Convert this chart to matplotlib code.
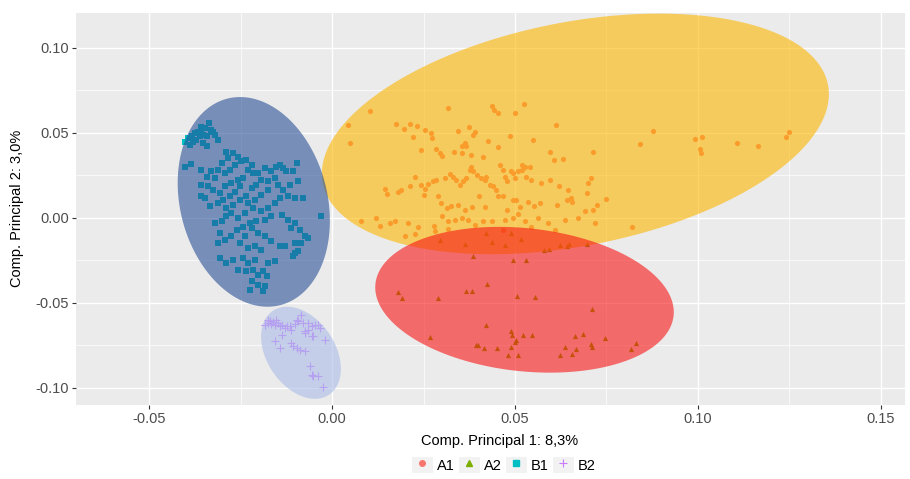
import numpy as np
import matplotlib
matplotlib.use("Agg")
import matplotlib.pyplot as plt
from matplotlib.lines import Line2D
from matplotlib.patches import Rectangle
from matplotlib.legend_handler import HandlerTuple

plt.rcParams["font.family"] = ["Liberation Sans", "DejaVu Sans"]

# group A1 (circles)
a1_x = [0.0103, 0.0044, 0.0050, 0.0317, 0.0438, 0.0442, 0.0454, 0.0501, 0.0524, 0.0611,
        0.0176, 0.0197, 0.0213, 0.0231, 0.0254, 0.0270, 0.0272, 0.0343, 0.0374, 0.0386,
        0.0390, 0.0220, 0.0244, 0.0283, 0.0295, 0.0301, 0.0334, 0.0354, 0.0363, 0.0367,
        0.0356, 0.0379, 0.0413, 0.0427, 0.0454, 0.0486, 0.0550, 0.0595, 0.0607, 0.0632,
        0.0714, 0.0226, 0.0144, 0.0151, 0.0181, 0.0188, 0.0213, 0.0244, 0.0254, 0.0252,
        0.0263, 0.0276, 0.0285, 0.0308, 0.0322, 0.0331, 0.0340, 0.0349, 0.0358, 0.0366,
        0.0377, 0.0381, 0.0386, 0.0395, 0.0408, 0.0418, 0.0422, 0.0431, 0.0440, 0.0449,
        0.0460, 0.0468, 0.0472, 0.0477, 0.0489, 0.0495, 0.0499, 0.0509, 0.0518, 0.0520,
        0.0527, 0.0531, 0.0540, 0.0545, 0.0571, 0.0595, 0.0620, 0.0645, 0.0653, 0.0700,
        0.0707, 0.0723, 0.0750, 0.0290, 0.0299, 0.0313, 0.0326, 0.0343, 0.0363, 0.0383,
        0.0401, 0.0419, 0.0454, 0.0468, 0.0477, 0.0495, 0.0504, 0.0513, 0.0536, 0.0552,
        0.0568, 0.0616, 0.0643, 0.0657, 0.0691, 0.0080, 0.0121, 0.0131, 0.0158, 0.0172,
        0.0208, 0.0235, 0.0279, 0.0301, 0.0317, 0.0336, 0.0354, 0.0372, 0.0390, 0.0413,
        0.0436, 0.0472, 0.0495, 0.0507, 0.0527, 0.0563, 0.0591, 0.0636, 0.0671, 0.0720,
        0.0199, 0.0226, 0.0281, 0.0317, 0.0468, 0.0545, 0.0609, 0.0877, 0.0841, 0.0991,
        0.1011, 0.1005, 0.1009, 0.1107, 0.1164, 0.1242, 0.1250, 0.0698, 0.0713, 0.0820]
a1_y = [0.0630, 0.0547, 0.0439, 0.0645, 0.0659, 0.0635, 0.0616, 0.0616, 0.0671, 0.0547,
        0.0551, 0.0522, 0.0551, 0.0541, 0.0518, 0.0498, 0.0469, 0.0514, 0.0532, 0.0488,
        0.0508, 0.0473, 0.0400, 0.0404, 0.0381, 0.0365, 0.0388, 0.0420, 0.0439, 0.0420,
        0.0381, 0.0369, 0.0361, 0.0455, 0.0416, 0.0479, 0.0459, 0.0386, 0.0341, 0.0347,
        0.0385, 0.0239, 0.0169, 0.0141, 0.0155, 0.0165, 0.0185, 0.0194, 0.0169, 0.0136,
        0.0200, 0.0214, 0.0220, 0.0234, 0.0259, 0.0243, 0.0224, 0.0194, 0.0214, 0.0234,
        0.0283, 0.0302, 0.0273, 0.0253, 0.0234, 0.0224, 0.0239, 0.0194, 0.0185, 0.0165,
        0.0312, 0.0283, 0.0243, 0.0214, 0.0273, 0.0263, 0.0234, 0.0277, 0.0283, 0.0312,
        0.0302, 0.0243, 0.0302, 0.0224, 0.0204, 0.0224, 0.0185, 0.0165, 0.0116, 0.0204,
        0.0234, 0.0077, 0.0110, 0.0126, 0.0087, 0.0057, 0.0067, 0.0077, 0.0047, 0.0063,
        0.0130, 0.0063, 0.0130, 0.0126, 0.0047, 0.0106, 0.0106, 0.0061, 0.0096, 0.0067,
        0.0087, 0.0073, 0.0106, 0.0096, 0.0038, -0.0021, -0.0002, -0.0047, -0.0031, -0.0021,
        -0.0031, -0.0051, -0.0047, 0.0008, -0.0021, -0.0011, -0.0002, -0.0011, -0.0041, -0.0021,
        -0.0021, -0.0011, -0.0002, 0.0024, -0.0021, -0.0002, -0.0031, -0.0011, -0.0002, -0.0031,
        -0.0104, -0.0094, -0.0080, -0.0066, -0.0070, -0.0051, -0.0070, 0.0514, 0.0434, 0.0465,
        0.0477, 0.0404, 0.0381, 0.0439, 0.0420, 0.0475, 0.0508, 0.0145, 0.0047, -0.0056]

# group A2 (triangles)
a2_x = [0.0294, 0.0363, 0.0437, 0.0474, 0.0517, 0.0578, 0.0593, 0.0622, 0.0643, 0.0647,
        0.0697, 0.0385, 0.0494, 0.0531, 0.0423, 0.0180, 0.0191, 0.0290, 0.0367, 0.0383,
        0.0506, 0.0554, 0.0710, 0.0420, 0.0267, 0.0488, 0.0492, 0.0522, 0.0546, 0.0393,
        0.0399, 0.0415, 0.0451, 0.0488, 0.0499, 0.0504, 0.0481, 0.0507, 0.0624, 0.0637,
        0.0656, 0.0663, 0.0667, 0.0687, 0.0708, 0.0710, 0.0747, 0.0818, 0.0831, 0.0490,
        0.0422]
a2_y = [-0.0129, -0.0153, -0.0145, -0.0159, -0.0125, -0.0192, -0.0184, -0.0159, -0.0165, -0.0153,
        -0.0153, -0.0222, -0.0247, -0.0251, -0.0388, -0.0437, -0.0472, -0.0474, -0.0433, -0.0433,
        -0.0461, -0.0466, -0.0537, -0.0633, -0.0702, -0.0668, -0.0690, -0.0692, -0.0692, -0.0747,
        -0.0747, -0.0766, -0.0766, -0.0763, -0.0733, -0.0717, -0.0806, -0.0806, -0.0806, -0.0763,
        -0.0802, -0.0694, -0.0772, -0.0682, -0.0743, -0.0763, -0.0708, -0.0772, -0.0737, -0.0090,
        -0.0090]

# group B1 (squares)
b1_x = [-0.0402, -0.0393, -0.0382, -0.0375, -0.0366, -0.0357, -0.0348, -0.0337, -0.0331, -0.0380,
        -0.0371, -0.0361, -0.0352, -0.0343, -0.0320, -0.0311, -0.0341, -0.0389, -0.0352, -0.0359,
        -0.0325, -0.0402, -0.0386, -0.0291, -0.0270, -0.0284, -0.0257, -0.0248, -0.0266, -0.0302,
        -0.0311, -0.0330, -0.0357, -0.0343, -0.0320, -0.0293, -0.0280, -0.0234, -0.0220, -0.0229,
        -0.0216, -0.0202, -0.0184, -0.0166, -0.0152, -0.0143, -0.0134, -0.0125, -0.0097, -0.0106,
        -0.0157, -0.0175, -0.0193, -0.0207, -0.0220, -0.0357, -0.0339, -0.0325, -0.0307, -0.0293,
        -0.0275, -0.0257, -0.0243, -0.0252, -0.0266, -0.0280, -0.0298, -0.0311, -0.0348, -0.0357,
        -0.0334, -0.0289, -0.0270, -0.0252, -0.0234, -0.0229, -0.0211, -0.0193, -0.0175, -0.0147,
        -0.0134, -0.0115, -0.0093, -0.0079, -0.0102, -0.0120, -0.0143, -0.0157, -0.0175, -0.0193,
        -0.0216, -0.0239, -0.0257, -0.0275, -0.0289, -0.0302, -0.0320, -0.0307, -0.0311, -0.0293,
        -0.0275, -0.0261, -0.0243, -0.0225, -0.0207, -0.0184, -0.0166, -0.0138, -0.0120, -0.0102,
        -0.0111, -0.0088, -0.0074, -0.0065, -0.0084, -0.0102, -0.0129, -0.0143, -0.0166, -0.0184,
        -0.0202, -0.0220, -0.0239, -0.0252, -0.0229, -0.0211, -0.0193, -0.0175, -0.0157, -0.0211,
        -0.0229, -0.0243, -0.0270, -0.0289, -0.0307, -0.0257, -0.0234, -0.0216, -0.0202, -0.0188,
        -0.0179, -0.0220, -0.0202, -0.0225, -0.0184, -0.0188, -0.0029, -0.0102, -0.0093, -0.0106]
b1_y = [0.0449, 0.0469, 0.0479, 0.0498, 0.0508, 0.0518, 0.0528, 0.0557, 0.0518, 0.0449,
        0.0459, 0.0479, 0.0488, 0.0479, 0.0488, 0.0459, 0.0420, 0.0430, 0.0439, 0.0537,
        0.0508, 0.0302, 0.0318, 0.0390, 0.0381, 0.0351, 0.0361, 0.0332, 0.0312, 0.0322,
        0.0283, 0.0273, 0.0283, 0.0243, 0.0234, 0.0263, 0.0283, 0.0341, 0.0312, 0.0283,
        0.0263, 0.0263, 0.0292, 0.0273, 0.0302, 0.0312, 0.0292, 0.0273, 0.0322, 0.0273,
        0.0234, 0.0214, 0.0224, 0.0194, 0.0175, 0.0194, 0.0185, 0.0165, 0.0145, 0.0185,
        0.0204, 0.0224, 0.0234, 0.0185, 0.0155, 0.0126, 0.0106, 0.0087, 0.0116, 0.0126,
        0.0067, 0.0057, 0.0077, 0.0106, 0.0126, 0.0087, 0.0106, 0.0136, 0.0165, 0.0194,
        0.0165, 0.0194, 0.0214, 0.0116, 0.0116, 0.0126, 0.0116, 0.0087, 0.0057, 0.0038,
        0.0057, 0.0028, -0.0002, 0.0028, 0.0008, -0.0021, -0.0031, -0.0090, -0.0149, -0.0129,
        -0.0109, -0.0070, -0.0051, -0.0031, -0.0021, -0.0011, 0.0008, 0.0018, -0.0011, -0.0031,
        -0.0060, -0.0070, -0.0109, -0.0119, -0.0149, -0.0149, -0.0168, -0.0168, -0.0139, -0.0109,
        -0.0090, -0.0060, -0.0109, -0.0149, -0.0178, -0.0168, -0.0188, -0.0266, -0.0256, -0.0247,
        -0.0266, -0.0237, -0.0247, -0.0266, -0.0237, -0.0305, -0.0315, -0.0305, -0.0335, -0.0315,
        -0.0345, -0.0374, -0.0394, -0.0423, -0.0403, -0.0433, 0.0012, -0.0207, -0.0198, -0.0227]

# group B2 (plus)
b2_x = [-0.0184, -0.0175, -0.0170, -0.0166, -0.0161, -0.0157, -0.0152, -0.0148, -0.0143, -0.0138,
        -0.0129, -0.0122, -0.0116, -0.0102, -0.0093, -0.0084, -0.0079, -0.0075, -0.0066, -0.0056,
        -0.0047, -0.0038, -0.0034, -0.0056, -0.0075, -0.0111, -0.0138, -0.0157, -0.0143, -0.0111,
        -0.0106, -0.0097, -0.0088, -0.0075, -0.0052, -0.0020, -0.0061, -0.0056, -0.0052, -0.0038,
        -0.0025, -0.0175, -0.0097, -0.0066]
b2_y = [-0.0629, -0.0619, -0.0609, -0.0623, -0.0615, -0.0629, -0.0604, -0.0619, -0.0639, -0.0629,
        -0.0649, -0.0635, -0.0639, -0.0623, -0.0609, -0.0570, -0.0619, -0.0668, -0.0658, -0.0639,
        -0.0629, -0.0629, -0.0649, -0.0698, -0.0678, -0.0658, -0.0688, -0.0727, -0.0766, -0.0737,
        -0.0756, -0.0766, -0.0776, -0.0786, -0.0698, -0.0717, -0.0874, -0.0923, -0.0933, -0.0929,
        -0.0996, -0.0600, -0.0600, -0.0619]

groups = ["A1", "A2", "B1", "B2"]

# ellipse parameters per group: centre, half extents along x and y, correlation
ell_cx = [0.0665, 0.0526, -0.0214, -0.0085]
ell_cy = [0.0494, -0.0482, 0.0094, -0.0794]
ell_hx = [0.0693, 0.0408, 0.0208, 0.0109]
ell_hy = [0.0708, 0.0429, 0.0617, 0.0271]
ell_rho = [0.33, -0.17, -0.18, -0.35]

point_colors = ["#F8766D", "#7CAE00", "#00BFC4", "#C77CFF"]
ellipse_colors = ["#FCB600", "#F81414", "#285096", "#AABBE6"]
markers = ["o", "^", "s", "+"]

fig = plt.figure(figsize=(9.1, 4.79), dpi=100)
ax = fig.add_axes([0.0835, 0.155, 0.911, 0.818])
ax.set_facecolor("#EBEBEB")

xs = [a1_x, a2_x, b1_x, b2_x]
ys = [a1_y, a2_y, b1_y, b2_y]
for i in range(4):
    if markers[i] == "+":
        ax.scatter(xs[i], ys[i], marker="+", s=30, color=point_colors[i], linewidths=0.8, zorder=2)
    else:
        ax.scatter(xs[i], ys[i], marker=markers[i], s=14, color=point_colors[i], linewidths=0, zorder=2)

t = np.linspace(0, 2 * np.pi, 200)
for i in [0, 1, 2, 3]:
    cov = np.array([[ell_hx[i] ** 2, ell_rho[i] * ell_hx[i] * ell_hy[i]],
                    [ell_rho[i] * ell_hx[i] * ell_hy[i], ell_hy[i] ** 2]])
    L = np.linalg.cholesky(cov)
    pts = L @ np.vstack([np.cos(t), np.sin(t)])
    ax.fill(ell_cx[i] + pts[0], ell_cy[i] + pts[1], color=ellipse_colors[i],
            alpha=0.6, linewidth=0, zorder=3)

ax.set_xlim(-0.07, 0.1566)
ax.set_ylim(-0.11, 0.1206)
ax.set_xticks([-0.05, 0.0, 0.05, 0.10, 0.15])
ax.set_xticklabels(["-0.05", "0.00", "0.05", "0.10", "0.15"])
ax.set_yticks([-0.10, -0.05, 0.0, 0.05, 0.10])
ax.set_yticklabels(["-0.10", "-0.05", "0.00", "0.05", "0.10"])
ax.set_xticks([-0.025, 0.025, 0.075, 0.125], minor=True)
ax.set_yticks([-0.075, -0.025, 0.025, 0.075], minor=True)
ax.grid(True, which="major", color="white", linewidth=1.0, zorder=0)
ax.grid(True, which="minor", color="white", linewidth=0.5, zorder=0)
ax.set_axisbelow(True)
for s in ax.spines.values():
    s.set_visible(False)
ax.tick_params(which="major", length=3, color="#333333", labelsize=10.5, labelcolor="#4D4D4D", pad=2)
ax.tick_params(which="minor", length=0)

ax.set_xlabel("Comp. Principal 1: 8,3%", fontsize=10.5, labelpad=10)
ax.xaxis.set_label_coords(0.5 + 9 / 829, -0.075)
ax.set_ylabel("Comp. Principal 2: 3,0%", fontsize=10.5, labelpad=8)

handles = []
for i in range(4):
    bg = Rectangle((0, 0), 1, 1, facecolor="#F2F2F2", edgecolor="none")
    if markers[i] == "+":
        mk = Line2D([], [], marker="+", linestyle="", color=point_colors[i],
                    markeredgecolor=point_colors[i], markersize=6, markeredgewidth=0.8)
    else:
        mk = Line2D([], [], marker=markers[i], linestyle="", color=point_colors[i], markersize=4)
    handles.append((bg, mk))
fig.legend(handles, groups, loc="center", bbox_to_anchor=(504 / 910, 0.03), ncol=4, frameon=False,
           fontsize=10.5, handler_map={tuple: HandlerTuple(ndivide=1, pad=0)},
           handlelength=1.4, handleheight=1.3, handletextpad=0.3, columnspacing=0.3)

fig.savefig("out.png", dpi=100)
